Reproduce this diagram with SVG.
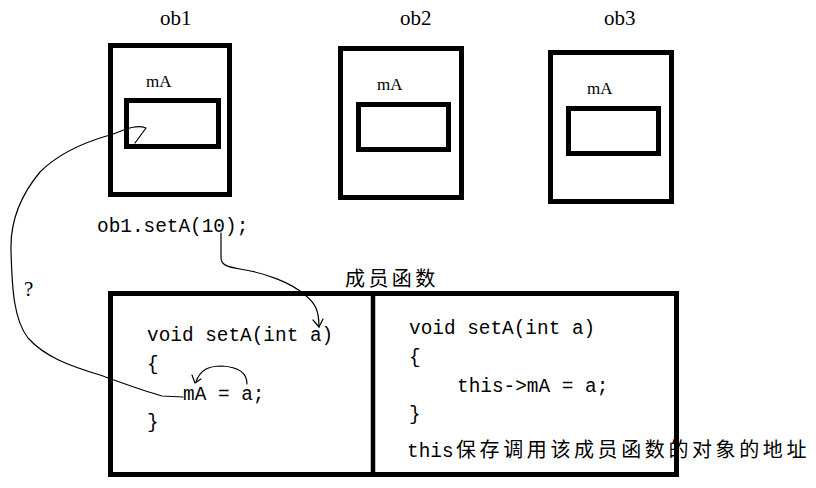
<svg xmlns="http://www.w3.org/2000/svg" width="816" height="488" viewBox="0 0 816 488">
<style>
.box{fill:none;stroke:#000;stroke-width:5}
.lbl{font-family:"Liberation Serif",serif;font-size:21px;fill:#000}
.ma{font-family:"Liberation Serif",serif;font-size:17px;fill:#000}
.code{font-family:"Liberation Mono",monospace;font-size:19.4px;fill:#000}
.cjk{font-family:"Noto Sans CJK SC",sans-serif;font-size:20px;fill:#000;letter-spacing:3.4px}
.wire{fill:none;stroke:#000;stroke-width:1.2;stroke-linejoin:round;stroke-linecap:round}
</style>
<rect width="816" height="488" fill="#fff"/>
<g id="ob1">
<text class="lbl" x="160" y="25">ob1</text>
<rect class="box" x="110.5" y="45.5" width="119" height="149"/>
<text class="ma" x="146" y="87">mA</text>
<rect class="box" x="126.5" y="100.5" width="92" height="46"/>
</g>
<g id="ob2">
<text class="lbl" x="400" y="25">ob2</text>
<rect class="box" x="340.5" y="48.5" width="121" height="149"/>
<text class="ma" x="377" y="90">mA</text>
<rect class="box" x="358.5" y="104.5" width="90" height="45"/>
</g>
<g id="ob3">
<text class="lbl" x="604" y="25">ob3</text>
<rect class="box" x="550.5" y="52.5" width="121" height="149"/>
<text class="ma" x="587" y="94">mA</text>
<rect class="box" x="568.5" y="108.5" width="90" height="45"/>
</g>
<g id="call">
<text class="code" x="97" y="232">ob1.setA(10);</text>
</g>
<g id="question">
<text class="lbl" x="24" y="296">?</text>
</g>
<g id="member-functions">
<text class="cjk" x="345" y="286">成员函数</text>
<rect class="box" x="110.5" y="293.5" width="566" height="181"/>
<line x1="373" y1="293" x2="373" y2="475" stroke="#000" stroke-width="4.5"/>
<text class="code" x="147" y="341">void setA(int a)</text>
<text class="code" x="147" y="370">{</text>
<text class="code" x="183" y="400">mA = a;</text>
<text class="code" x="147" y="428">}</text>
<text class="code" x="409" y="334">void setA(int a)</text>
<text class="code" x="409" y="363">{</text>
<text class="code" x="457" y="392">this-&gt;mA = a;</text>
<text class="code" x="409" y="420">}</text>
<text class="code" x="407" y="457">this</text>
<text class="cjk" x="456" y="457" style="letter-spacing:3.6px">保存调用该成员函数的对象的地址</text>
</g>
<g id="connectors">
<path class="wire" d="M183 397 L162 396 C140 390 120 382 100 375 C70 366 45 357 28 338 C14 320 12 290 11 250 C10 215 25 190 40 172 C60 152 85 142 110 135 C125 130 135 124 146 128 L135 143"/>
<path class="wire" d="M221 233 L221 258 C221 265 228 267 240 269 C265 273 290 282 305 295 C315 303 319 310 319 327"/>
<path class="wire" d="M313 320 L319 327 L323 319"/>
<path class="wire" d="M247 384 C247 372 238 367 222 366 C208 366 200 370 196 382"/>
<path class="wire" d="M192 375 L195 383 L201 379"/>
</g>
</svg>
